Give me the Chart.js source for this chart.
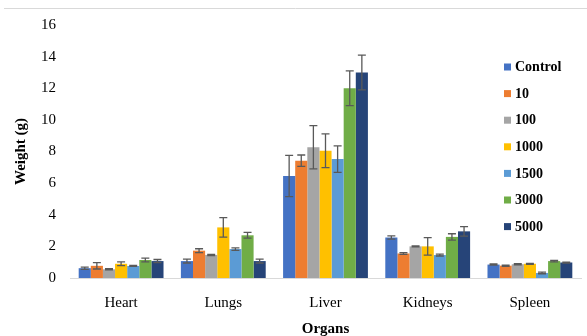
<!DOCTYPE html>
<html>
<head>
<meta charset="utf-8">
<script src="https://cdn.jsdelivr.net/npm/chart.js@4"></script>
<style>
  html, body { margin:0; padding:0; background:#fff; }
  #wrap { width:587px; height:336px; position:relative; }
</style>
</head>
<body>
<div id="wrap"><canvas id="chartCanvas" width="587" height="336"></canvas></div>
<script>
// ---------- DATA ----------
const organs = ["Heart", "Lungs", "Liver", "Kidneys", "Spleen"];
const doseLabels = ["Control", "10", "100", "1000", "1500", "3000", "5000"];
const yTicks = [0, 2, 4, 6, 8, 10, 12, 14, 16];

// mean weight per dose, one entry per organ
const controlVals = [0.62, 1.07, 6.45, 2.56, 0.85];
const d10Vals     = [0.77, 1.73, 7.42, 1.55, 0.78];
const d100Vals    = [0.55, 1.46, 8.27, 2.00, 0.87];
const d1000Vals   = [0.90, 3.20, 8.05, 2.00, 0.90];
const d1500Vals   = [0.76, 1.83, 7.52, 1.45, 0.32];
const d3000Vals   = [1.14, 2.70, 12.0, 2.60, 1.07];
const d5000Vals   = [1.07, 1.07, 13.0, 2.95, 0.98];

// error (+/-)
const controlErr = [0.07, 0.12, 1.30, 0.10, 0.04];
const d10Err     = [0.20, 0.12, 0.36, 0.06, 0.04];
const d100Err    = [0.04, 0.04, 1.37, 0.03, 0.04];
const d1000Err   = [0.12, 0.62, 1.07, 0.55, 0.03];
const d1500Err   = [0.03, 0.08, 0.84, 0.06, 0.05];
const d3000Err   = [0.12, 0.18, 1.10, 0.20, 0.05];
const d5000Err   = [0.10, 0.12, 1.10, 0.30, 0.03];

const colors = ["#4472C4", "#ED7D31", "#A5A5A5", "#FFC000", "#5B9BD5", "#70AD47", "#264478"];

const allVals = [controlVals, d10Vals, d100Vals, d1000Vals, d1500Vals, d3000Vals, d5000Vals];
const allErr = [controlErr, d10Err, d100Err, d1000Err, d1500Err, d3000Err, d5000Err];

const serif = "'Liberation Serif', 'Times New Roman', serif";

// ---------- PLUGINS ----------
const errorBars = {
  id: "errorBars",
  afterDatasetsDraw(chart){
    const ctx = chart.ctx;
    const y = chart.scales.y;
    ctx.save();
    ctx.strokeStyle = "#595959";
    ctx.lineWidth = 1.3;
    chart.data.datasets.forEach((ds, i)=>{
      const meta = chart.getDatasetMeta(i);
      meta.data.forEach((bar, j)=>{
        const v = ds.data[j], e = ds.errors[j];
        const yt = y.getPixelForValue(v + e), yb = y.getPixelForValue(v - e);
        const x = bar.x;
        ctx.beginPath();
        ctx.moveTo(x, yt); ctx.lineTo(x, yb);
        ctx.moveTo(x - 4, yt); ctx.lineTo(x + 4, yt);
        ctx.moveTo(x - 4, yb); ctx.lineTo(x + 4, yb);
        ctx.stroke();
      });
    });
    ctx.restore();
  }
};

const sideLegend = {
  id: "sideLegend",
  beforeDraw(chart){
    const ctx = chart.ctx;
    ctx.save();
    ctx.strokeStyle = "#d9d9d9";
    ctx.lineWidth = 1;
    ctx.beginPath();
    ctx.moveTo(4, 8.5); ctx.lineTo(587, 8.5);
    ctx.stroke();
    ctx.restore();
  },
  afterDraw(chart){
    const ctx = chart.ctx;
    ctx.save();
    ctx.font = "bold 14px " + serif;
    ctx.textBaseline = "middle";
    chart.data.datasets.forEach((ds, i)=>{
      const yy = 67 + i * 26.6;
      ctx.fillStyle = ds.backgroundColor;
      ctx.fillRect(504, yy - 3.5, 7, 7);
      ctx.fillStyle = "#000";
      ctx.fillText(ds.label, 515, yy + 0.5);
    });
    ctx.restore();
  }
};

// ---------- CHART ----------
new Chart(document.getElementById("chartCanvas"), {
  type: "bar",
  data: {
    labels: organs,
    datasets: doseLabels.map((d, i)=>({
      label: d,
      data: allVals[i],
      errors: allErr[i],
      backgroundColor: colors[i],
      borderWidth: 0,
      barPercentage: 1,
      categoryPercentage: 0.83
    }))
  },
  options: {
    responsive: false,
    animation: false,
    layout: { padding: { left: 0, right: 6, top: 25, bottom: 0 } },
    plugins: { legend: { display: false }, tooltip: { enabled: false } },
    scales: {
      x: {
        grid: { display: false, drawTicks: false },
        border: { display: true, color: "#d9d9d9", width: 1 },
        ticks: { color: "#000", font: { family: serif, size: 15 }, padding: 16 },
        title: { display: true, text: "Organs", color: "#000", font: { family: serif, size: 15, weight: "bold" }, padding: { top: 0, bottom: -2 } },
        afterFit(scale){ scale.height = 58; }
      },
      y: {
        min: 0, max: 16,
        afterBuildTicks(scale){ scale.ticks = yTicks.map(v=>({ value: v })); },
        grid: { display: false, drawTicks: false },
        border: { display: false },
        ticks: { color: "#000", font: { family: serif, size: 15 }, padding: 14 },
        title: { display: true, text: "Weight (g)", color: "#000", font: { family: serif, size: 15, weight: "bold" }, padding: { top: 12, bottom: 0 } },
        afterFit(scale){ scale.width = 70; }
      }
    }
  },
  plugins: [errorBars, sideLegend]
});
</script>
</body>
</html>
